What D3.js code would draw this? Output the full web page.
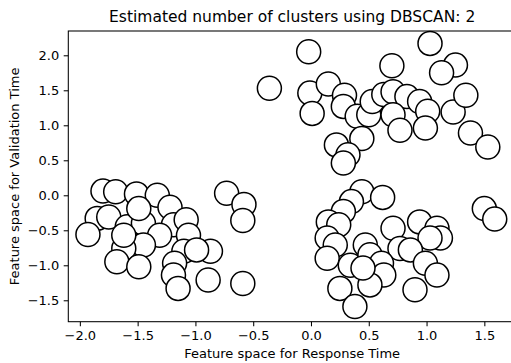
<!DOCTYPE html>
<html>
<head>
<meta charset="UTF-8" />
<script src="https://d3js.org/d3.v7.min.js"></script>
<style>
  body { margin: 0; background: #fff; }
  text { font-family: "DejaVu Sans", sans-serif; fill: #000; }
</style>
</head>
<body>
<div id="chart"></div>
<script>
// feature space coordinates
const responseTime = [
  -1.80, -1.69, -1.51, -1.33, -1.22, -1.85, -1.75, -1.93, -1.59, -1.45,
  -1.49, -1.19, -1.08, -1.06, -1.31, -1.45, -1.62, -1.68, -1.49, -1.10,
  -0.87, -0.99, -1.18, -1.19, -1.15, -0.89, -1.62, -0.73, -0.58, -0.59,
  -0.59,
  0.44, 0.62, 0.35, 0.28, 0.15, 0.24, 0.14, 0.21, 0.14, 0.34,
  0.47, 0.51, 0.71, 0.94, 1.09, 1.12, 1.03, 0.77, 0.86, 0.61,
  0.63, 0.51, 0.25, 0.38, 0.99, 1.09, 0.90, 0.45, 1.50, 1.59,
  -0.02, 1.03, 0.70, 1.25, 1.13, -0.01, 0.15, 0.01, 0.29, 0.28,
  0.40, 0.50, 0.53, 0.63, 0.71, 0.83, 0.94, 1.01, 0.71, 0.77,
  0.99, 1.23, 1.34, 1.38, 1.53, 0.44, 0.22, 0.32, 0.28, -0.36
];
const validationTime = [
  0.06, 0.05, 0.02, 0.00, -0.17, -0.33, -0.31, -0.56, -0.45, -0.40,
  -0.19, -0.42, -0.35, -0.57, -0.57, -0.71, -0.76, -0.95, -1.02, -0.80,
  -0.80, -0.78, -0.97, -1.14, -1.33, -1.21, -0.57, 0.03, -0.13, -0.36,
  -1.26,
  0.05, -0.03, -0.09, -0.23, -0.38, -0.42, -0.61, -0.71, -0.90, -1.00,
  -0.71, -0.85, -0.47, -0.38, -0.47, -0.61, -0.61, -0.76, -0.78, -0.97,
  -1.14, -1.28, -1.33, -1.59, -0.97, -1.14, -1.35, -1.04, -0.19, -0.34,
  2.05, 2.17, 1.85, 1.86, 1.75, 1.46, 1.59, 1.17, 1.43, 1.27,
  1.13, 1.15, 1.34, 1.44, 1.48, 1.41, 1.34, 1.20, 1.15, 0.93,
  0.96, 1.19, 1.43, 0.89, 0.69, 0.81, 0.72, 0.58, 0.46, 1.53
];
const xTicks = [-2.0, -1.5, -1.0, -0.5, 0.0, 0.5, 1.0, 1.5];
const yTicks = [-1.5, -1.0, -0.5, 0.0, 0.5, 1.0, 1.5, 2.0];
const nClusters = 2;

const width = 511, height = 363;
const margin = { top: 31, right: -5, bottom: 41.3, left: 68.3 };
const plotTop = margin.top, plotBottom = height - margin.bottom;
const plotLeft = margin.left, plotRight = width - margin.right;

const svg = d3.select("#chart").append("svg")
  .attr("width", width)
  .attr("height", height);

const x = d3.scaleLinear()
  .domain([-2.10, 1.774])
  .range([plotLeft, plotRight]);
const y = d3.scaleLinear()
  .domain([-1.806, 2.347])
  .range([plotBottom, plotTop]);

const points = responseTime.map((d, i) => ({ x: d, y: validationTime[i] }));

svg.append("g")
  .selectAll("circle")
  .data(points)
  .join("circle")
  .attr("cx", d => x(d.x))
  .attr("cy", d => y(d.y))
  .attr("r", 12)
  .style("fill", "#fff")
  .style("stroke", "#000")
  .style("stroke-width", 1.5);

const fmt = d => d3.format(".1f")(d).replace("-", "\u2212");

const xAxis = svg.append("g")
  .attr("transform", "translate(0," + plotBottom + ")")
  .call(d3.axisBottom(x).tickValues(xTicks).tickFormat(fmt).tickSize(4.6).tickPadding(4.5));
const yAxis = svg.append("g")
  .attr("transform", "translate(" + plotLeft + ",0)")
  .call(d3.axisLeft(y).tickValues(yTicks).tickFormat(fmt).tickSize(4.6).tickPadding(4.5));

[xAxis, yAxis].forEach(g => {
  g.select(".domain").remove();
  g.selectAll("line").style("stroke", "#000").style("stroke-width", 1.05);
  g.selectAll("text").style("font-size", "13px").style("font-family", "DejaVu Sans");
});

// spines
svg.append("rect")
  .attr("x", plotLeft).attr("y", plotTop)
  .attr("width", plotRight - plotLeft).attr("height", plotBottom - plotTop)
  .style("fill", "none").style("stroke", "#000").style("stroke-width", 1.05);

svg.append("text")
  .attr("x", (plotLeft + plotRight) / 2)
  .attr("y", 22)
  .attr("text-anchor", "middle")
  .style("font-size", "15.5px")
  .text("Estimated number of clusters using DBSCAN: " + nClusters);

svg.append("text")
  .attr("x", (plotLeft + plotRight) / 2)
  .attr("y", 358)
  .attr("text-anchor", "middle")
  .style("font-size", "13px")
  .text("Feature space for Response Time");

svg.append("text")
  .attr("transform", "translate(19," + ((plotTop + plotBottom) / 2) + ") rotate(-90)")
  .attr("text-anchor", "middle")
  .style("font-size", "13px")
  .text("Feature space for Validation Time");
</script>
</body>
</html>
